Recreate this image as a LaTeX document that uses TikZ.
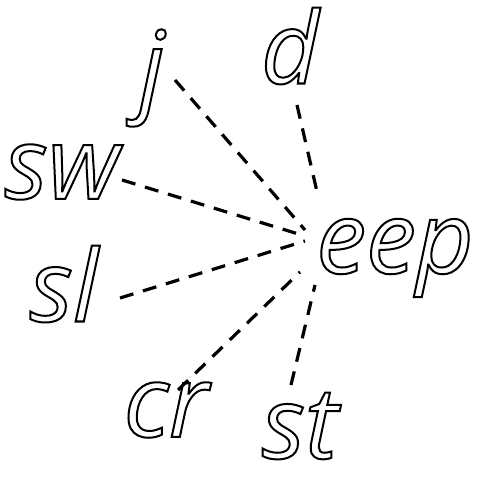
\documentclass[tikz,border=0pt]{standalone}
\usepackage{fontspec}
\setmainfont{Open Sans}
\usetikzlibrary{positioning}

\tikzset{
  word/.style={inner sep=0pt,
    font=\fontsize{100}{100}\selectfont\itshape\addfontfeature{FakeBold=2}},
  link/.style={line width=3.2pt, dash pattern=on 14pt off 10pt},
}
% outlined letters: white fill, black stroke
\newcommand{\hollow}[1]{\pgfsetfillcolor{white}\pgfsetstrokecolor{black}#1}

\begin{document}
\begin{tikzpicture}[x=1pt, y=-1pt]
  \useasboundingbox (0,0) rectangle (476,481);

  % words
  \node[word] (eep) at (395,258) {\hollow{eep}};
  \node[word] (j)   at (152,78)  {\hollow{j}};
  \node[word] (d)   at (290,46)  {\hollow{d}};
  \node[word] (sw)  at (62,172)  {\hollow{sw}};
  \node[word] (sl)  at (64,284)  {\hollow{sl}};
  \node[word] (cr)  at (166,410) {\hollow{cr}};
  \node[word] (st)  at (300,426) {\hollow{st}};

  % ends of the links
  \coordinate (j-a)  at (175,80);   \coordinate (j-b)  at (305,230);
  \coordinate (d-a)  at (297,105);  \coordinate (d-b)  at (318,196);
  \coordinate (sw-a) at (122,180);  \coordinate (sw-b) at (305,236);
  \coordinate (sl-a) at (120,298);  \coordinate (sl-b) at (305,241);
  \coordinate (cr-a) at (178,390);  \coordinate (cr-b) at (300,272);
  \coordinate (st-a) at (291,385);  \coordinate (st-b) at (315,285);

  % dashed links
  \foreach \w in {j,d,sw,sl,cr,st}
    \draw[link] (\w-a) -- (\w-b);
\end{tikzpicture}
\end{document}
